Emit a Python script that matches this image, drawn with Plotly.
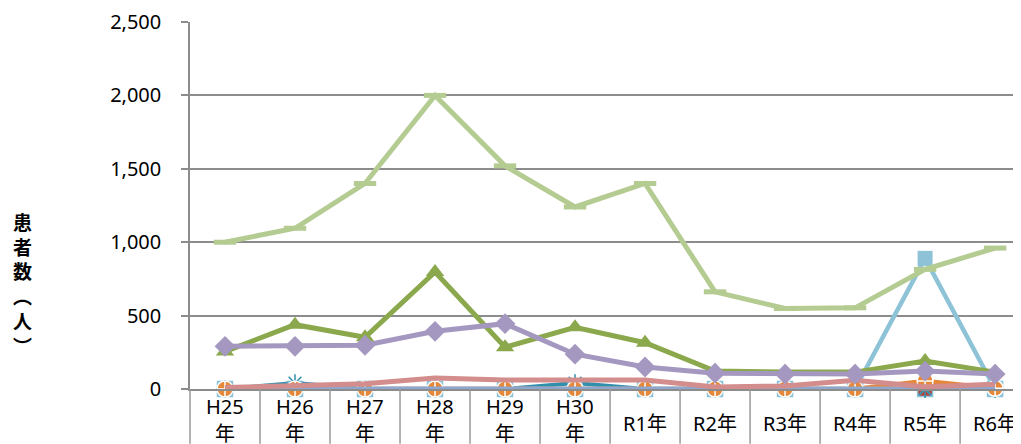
import plotly.graph_objects as go

categories = ["H25年", "H26年", "H27年", "H28年", "H29年", "H30年",
              "R1年", "R2年", "R3年", "R4年", "R5年", "R6年"]
label_line1 = ["H25", "H26", "H27", "H28", "H29", "H30",
               "R1年", "R2年", "R3年", "R4年", "R5年", "R6年"]
label_line2 = ["年", "年", "年", "年", "年", "年", "", "", "", "", "", ""]
y_ticks = [0, 500, 1000, 1500, 2000, 2500]
y_title = "患<br>者<br>数<br>︵<br>人<br>︶"

s_lightgreen = [1000, 1095, 1400, 2000, 1520, 1240, 1400, 662, 548, 553, 815, 960]
s_green = [255, 438, 352, 797, 285, 420, 315, 122, 115, 115, 190, 115]
s_purple = [291, 291, 298, 393, 445, 237, 150, 108, 102, 102, 122, 102]
s_lightblue = [0, 0, 0, 0, 0, 0, 0, 0, 0, 0, 890, 0]
s_pink = [10, 25, 35, 75, 62, 62, 62, 14, 20, 60, 15, 32]
s_orange = [0, 0, 0, 0, 0, 0, 0, 0, 0, 0, 55, 5]
s_teal = [0, 40, 0, 0, 0, 40, 0, 0, 0, 0, 0, 0]
s_blue = [0, 0, 0, 0, 0, 0, 0, 0, 0, 0, 0, 0]
s_darkred = [0, 0, 0, 0, 0, 0, 0, 0, 0, 0, 0, 0]

fig = go.Figure()

def add(y, color, width, symbol=None, size=0, mcolor=None, mline=None, mlw=0):
    mode = "lines+markers" if symbol else "lines"
    marker = dict()
    if symbol:
        marker = dict(symbol=symbol, size=size, color=mcolor or color,
                      line=dict(color=mline or color, width=mlw))
    fig.add_trace(go.Scatter(x=categories, y=y, mode=mode,
                             line=dict(color=color, width=width),
                             marker=marker, showlegend=False, cliponaxis=False))

add(s_darkred, "#B5433C", 4, "square-x", 15, "#B5433C", "#8EC3D7", 1.5)
add(s_teal, "#3090AC", 4, "asterisk-open", 15, None, "#3090AC", 1.5)
add(s_lightblue, "#8EC3D7", 4.5, "square", 15)
add(s_orange, "#E5883A", 4.5, "circle-cross", 16, "#E5883A", "white", 1.5)
add(s_blue, "#8FA7CF", 5)
add(s_pink, "#D38D8C", 5)
add(s_green, "#8BA84C", 5, "triangle-up", 16)
add(s_purple, "#A598C0", 5, "diamond", 16)
add(s_lightgreen, "#B4CB91", 5, "line-ew", 16, None, "#B4CB91", 5)

R = 11.37
total = R + 0.5
plot_h = 369.0
plot_w = 831.0
bottom_px = 55.0

shapes = []
for k in range(0, 12):
    xp = k / total
    shapes.append(dict(type="line", xref="paper", yref="paper",
                       x0=xp, x1=xp, y0=0, y1=-bottom_px / plot_h,
                       line=dict(color="#9A9A9A", width=1.5)))

lab_font = dict(family="Noto Sans, Noto Sans CJK JP", size=20, color="#000000")
annotations = []
for cat, l1, l2 in zip(categories, label_line1, label_line2):
    if l2:
        annotations.append(dict(x=cat, xref="x", y=-18 / plot_h, yref="paper",
                                text=l1, showarrow=False, xanchor="center",
                                yanchor="middle", font=lab_font))
        annotations.append(dict(x=cat, xref="x", y=-45 / plot_h, yref="paper",
                                text=l2, showarrow=False, xanchor="center",
                                yanchor="middle", font=lab_font))
    else:
        annotations.append(dict(x=cat, xref="x", y=-35 / plot_h, yref="paper",
                                text=l1, showarrow=False, xanchor="center",
                                yanchor="middle", font=lab_font))

annotations.append(dict(x=-168 / plot_w, xref="paper", y=(389 - 283) / plot_h,
                        yref="paper", text="<b>" + y_title + "</b>", showarrow=False,
                        xanchor="center", yanchor="middle",
                        font=dict(family="Noto Sans CJK JP", size=19,
                                  color="#000000")))

fig.update_layout(
    width=1013, height=436,
    margin=dict(l=182, r=0, t=12, b=55, pad=0),
    paper_bgcolor="white", plot_bgcolor="white",
    shapes=shapes, annotations=annotations,
    xaxis=dict(type="category", range=[-0.5, R], showgrid=False,
               showticklabels=False, showline=True, linecolor="#8C8C8C",
               linewidth=1.5, ticks="", zeroline=False),
    yaxis=dict(range=[0, 2500], tickvals=y_ticks, tickformat=",",
               showgrid=True, gridcolor="#8C8C8C", gridwidth=1.5,
               showline=True, linecolor="#8C8C8C", linewidth=1.5,
               ticks="outside", ticklen=7, tickcolor="#8C8C8C", tickwidth=1.5,
               ticklabelstandoff=16, zeroline=False, ticklabeloverflow="allow",
               tickfont=dict(family="Noto Sans", size=20, color="#000000")),
)

fig.write_html("out.html")
